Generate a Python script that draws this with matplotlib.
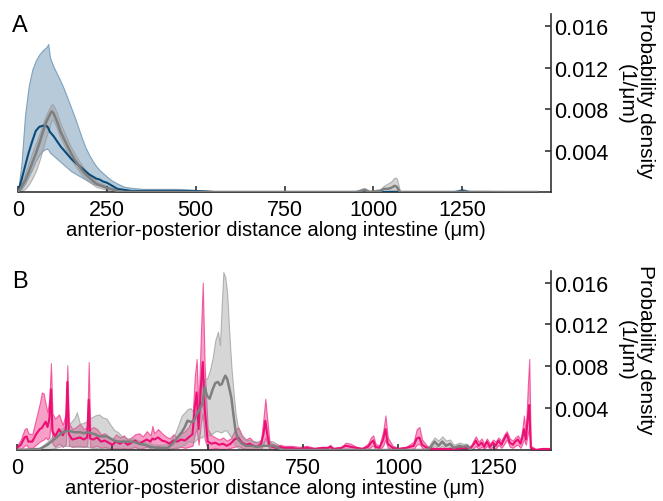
import matplotlib
matplotlib.use("Agg")
import matplotlib.pyplot as plt
from matplotlib.colors import to_rgba

plt.rcParams['font.family'] = ['Liberation Sans', 'DejaVu Sans']

# ---- panel A data (x in um, density in 1/um) ----
blue_x = [0, 10, 20, 30, 40, 50, 60, 70, 80, 85, 90, 100, 110, 120, 130, 140, 150, 160, 170,
          180, 190, 200, 210, 220, 230, 240, 250, 260, 270, 280, 300, 320, 350, 400, 450, 500,
          550, 600, 1200, 1230, 1250, 1270, 1330, 1350]
blue_mean = [0, 0.0012, 0.0025, 0.0038, 0.0049, 0.0059, 0.0063, 0.0064, 0.0064, 0.0062, 0.0058,
             0.0054, 0.0049, 0.0044, 0.0040, 0.0036, 0.0032, 0.0029, 0.0026, 0.0023, 0.0020,
             0.0017, 0.0015, 0.0013, 0.0012, 0.0010, 0.0009, 0.0007, 0.0005, 0.0003, 0.0002,
             0.0001, 0.0001, 0.0001, 0.0001, 0.0001, 0, 0, 0, 0, 0.0001, 0, 0, 0]
blue_lo = [0, 0.0003, 0.0008, 0.0015, 0.0022, 0.0030, 0.0036, 0.0040, 0.0042, 0.0041, 0.0038,
           0.0035, 0.0032, 0.0029, 0.0026, 0.0023, 0.0020, 0.0018, 0.0016, 0.0014, 0.0012,
           0.0010, 0.0008, 0.0007, 0.0006, 0.0005, 0.0004, 0.0003, 0.0002, 0.0001, 0, 0, 0,
           0, 0, 0, 0, 0, 0, 0, 0, 0, 0, 0]
blue_hi = [0, 0.0028, 0.0075, 0.0102, 0.0118, 0.0127, 0.0133, 0.0137, 0.0140, 0.0143, 0.0130,
           0.0121, 0.0114, 0.0107, 0.0099, 0.0090, 0.0081, 0.0072, 0.0062, 0.0052, 0.0043,
           0.0036, 0.0030, 0.0025, 0.0021, 0.0018, 0.0015, 0.0012, 0.0010, 0.0008, 0.0005,
           0.0004, 0.0003, 0.0003, 0.0003, 0.0002, 0.0001, 0, 0, 0.0001, 0.0003, 0.0001,
           0.0001, 0]

grayA_x = [0, 10, 20, 30, 40, 50, 60, 70, 80, 90, 95, 100, 110, 120, 130, 140, 150, 160, 170,
           180, 190, 200, 220, 250, 280, 300, 950, 965, 975, 990, 1020, 1030, 1040, 1050, 1060,
           1066, 1075, 1090, 1460]
grayA_mean = [0, 0.0005, 0.0011, 0.0019, 0.0028, 0.0037, 0.0047, 0.0058, 0.0068, 0.0075, 0.0078,
              0.0076, 0.0068, 0.0058, 0.0051, 0.0044, 0.0037, 0.0031, 0.0026, 0.0021, 0.0017,
              0.0014, 0.0008, 0.0004, 0.0001, 0, 0, 0.0001, 0.0002, 0, 0.0001, 0.0003, 0.0003,
              0.0004, 0.0006, 0.0005, 0, 0, 0]
grayA_lo = [0, 0.0001, 0.0003, 0.0007, 0.0013, 0.0020, 0.0030, 0.0042, 0.0054, 0.0064, 0.0070,
            0.0069, 0.0061, 0.0052, 0.0045, 0.0038, 0.0031, 0.0026, 0.0021, 0.0016, 0.0013,
            0.0010, 0.0005, 0.0002, 0, 0, 0, 0, 0.0001, 0, 0, 0.0001, 0.0001, 0.0002, 0.0002,
            0.0002, 0, 0, 0]
grayA_hi = [0, 0.0009, 0.0018, 0.0028, 0.0038, 0.0047, 0.0056, 0.0066, 0.0075, 0.0082, 0.0085,
            0.0084, 0.0076, 0.0066, 0.0058, 0.0050, 0.0043, 0.0037, 0.0031, 0.0026, 0.0021,
            0.0018, 0.0011, 0.0006, 0.0002, 0.0001, 0, 0.0003, 0.0004, 0.0001, 0.0003, 0.0006,
            0.0008, 0.0010, 0.0014, 0.0013, 0.0001, 0, 0]

# ---- panel B data ----
mag_x = [0, 10, 20, 25, 30, 40, 50, 60, 65, 70, 75, 80, 85, 89, 93, 100, 110, 120, 128, 132,
         136, 145, 155, 165, 175, 184, 188, 192, 200, 210, 220, 230, 240, 250, 260, 270, 280,
         290, 300, 310, 320, 330, 340, 350, 355, 360, 370, 380, 390, 400, 410, 420, 430, 440,
         450, 460, 466, 471, 476, 482, 487, 492, 500, 510, 520, 530, 540, 550, 560, 570, 580,
         590, 600, 610, 620, 630, 640, 646, 651, 656, 662, 670, 680, 690, 700, 720, 740, 760,
         780, 800, 815, 821, 830, 850, 862, 875, 890, 905, 920, 928, 934, 940, 950, 960, 966,
         972, 985, 1000, 1020, 1040, 1048, 1055, 1062, 1075, 1090, 1110, 1130, 1150, 1170,
         1190, 1198, 1203, 1210, 1218, 1225, 1232, 1240, 1248, 1255, 1262, 1270, 1278, 1284,
         1292, 1300, 1306, 1313, 1320, 1325, 1329, 1334, 1339, 1343, 1347, 1360, 1380, 1395]
mag_mean = [0.0002, 0.0005, 0.0012, 0.0013, 0.0008, 0.0008, 0.0015, 0.0020, 0.0021, 0.0024,
            0.0027, 0.0022, 0.0030, 0.0058, 0.0018, 0.0013, 0.0020, 0.0014, 0.0020, 0.0065,
            0.0015, 0.0010, 0.0011, 0.0012, 0.0010, 0.0012, 0.0048, 0.0011, 0.0010, 0.0012,
            0.0008, 0.0009, 0.0007, 0.0005, 0.0008, 0.0006, 0.0008, 0.0005, 0.0007, 0.0009,
            0.0006, 0.0008, 0.0010, 0.0008, 0.0011, 0.0010, 0.0012, 0.0009, 0.0008, 0.0006,
            0.0009, 0.0008, 0.0010, 0.0009, 0.0012, 0.0015, 0.0040, 0.0055, 0.0020, 0.0060,
            0.0084, 0.0040, 0.0008, 0.0006, 0.0007, 0.0005, 0.0006, 0.0004, 0.0006, 0.0010,
            0.0012, 0.0007, 0.0005, 0.0006, 0.0004, 0.0003, 0.0006, 0.0015, 0.0028, 0.0015,
            0.0004, 0.0003, 0.0002, 0.0003, 0.0002, 0.0002, 0.0001, 0.0002, 0.0001, 0.0002,
            0.0002, 0.0003, 0.0001, 0.0002, 0.0004, 0.0003, 0.0002, 0.0001, 0.0003, 0.0007,
            0.0009, 0.0003, 0.0002, 0.0010, 0.0020, 0.0006, 0.0002, 0.0001, 0.0002, 0.0004,
            0.0011, 0.0012, 0.0005, 0.0002, 0.0001, 0.0001, 0.0001, 0.0001, 0.0002, 0.0002,
            0.0006, 0.0009, 0.0004, 0.0007, 0.0003, 0.0008, 0.0003, 0.0007, 0.0004, 0.0009,
            0.0005, 0.0011, 0.0015, 0.0007, 0.0005, 0.0008, 0.0010, 0.0006, 0.0012, 0.0020,
            0.0010, 0.0030, 0.0043, 0.0002, 0, 0.0001, 0.0001]
mag_lo = [0, 0.0001, 0.0004, 0.0005, 0.0002, 0.0002, 0.0005, 0.0008, 0.0009, 0.0010, 0.0012,
          0.0010, 0.0012, 0.0030, 0.0006, 0.0003, 0.0006, 0.0003, 0.0005, 0.0035, 0.0004,
          0.0003, 0.0004, 0.0004, 0.0003, 0.0004, 0.0025, 0.0003, 0.0003, 0.0004, 0.0002,
          0.0003, 0.0002, 0.0001, 0.0002, 0.0001, 0.0002, 0.0001, 0.0002, 0.0003, 0.0001,
          0.0002, 0.0003, 0.0002, 0.0003, 0.0003, 0.0004, 0.0002, 0.0002, 0.0001, 0.0002,
          0.0002, 0.0003, 0.0002, 0.0003, 0.0004, 0.0015, 0.0020, 0.0005, 0.0025, 0.0035,
          0.0010, 0.0001, 0.0001, 0.0002, 0.0001, 0.0001, 0.0001, 0.0002, 0.0003, 0.0004,
          0.0002, 0.0001, 0.0001, 0.0001, 0.0001, 0.0001, 0.0005, 0.0012, 0.0005, 0.0001,
          0.0001, 0, 0.0001, 0, 0, 0, 0, 0, 0, 0, 0.0001, 0, 0, 0.0001, 0.0001, 0, 0, 0.0001,
          0.0003, 0.0004, 0.0001, 0, 0.0004, 0.0010, 0.0002, 0, 0, 0, 0.0001, 0.0005, 0.0006,
          0.0002, 0, 0, 0, 0, 0, 0, 0, 0.0002, 0.0004, 0.0001, 0.0003, 0.0001, 0.0004, 0.0001,
          0.0003, 0.0001, 0.0005, 0.0002, 0.0006, 0.0010, 0.0003, 0.0002, 0.0004, 0.0005,
          0.0002, 0.0006, 0.0010, 0.0005, 0.0015, 0.0020, 0, 0, 0, 0]
mag_hi = [0.0004, 0.0010, 0.0020, 0.0021, 0.0016, 0.0015, 0.0030, 0.0045, 0.0055, 0.0054,
          0.0044, 0.0036, 0.0050, 0.0083, 0.0035, 0.0030, 0.0034, 0.0024, 0.0035, 0.0081,
          0.0026, 0.0020, 0.0022, 0.0025, 0.0020, 0.0022, 0.0084, 0.0020, 0.0022, 0.0020,
          0.0015, 0.0016, 0.0013, 0.0010, 0.0015, 0.0012, 0.0014, 0.0010, 0.0012, 0.0015,
          0.0016, 0.0013, 0.0018, 0.0014, 0.0023, 0.0016, 0.0020, 0.0016, 0.0013, 0.0011,
          0.0015, 0.0012, 0.0016, 0.0018, 0.0022, 0.0030, 0.0070, 0.0087, 0.0040, 0.0110,
          0.0160, 0.0080, 0.0020, 0.0014, 0.0012, 0.0010, 0.0012, 0.0009, 0.0011, 0.0018,
          0.0022, 0.0014, 0.0010, 0.0012, 0.0008, 0.0007, 0.0010, 0.0030, 0.0049, 0.0030,
          0.0008, 0.0006, 0.0005, 0.0005, 0.0004, 0.0004, 0.0003, 0.0004, 0.0002, 0.0003,
          0.0003, 0.0005, 0.0002, 0.0003, 0.0007, 0.0006, 0.0003, 0.0002, 0.0006, 0.0012,
          0.0014, 0.0006, 0.0004, 0.0018, 0.0033, 0.0012, 0.0004, 0.0002, 0.0003, 0.0008,
          0.0020, 0.0022, 0.0010, 0.0004, 0.0002, 0.0002, 0.0002, 0.0002, 0.0004, 0.0004,
          0.0010, 0.0013, 0.0008, 0.0011, 0.0006, 0.0011, 0.0006, 0.0010, 0.0008, 0.0012,
          0.0009, 0.0015, 0.0018, 0.0011, 0.0009, 0.0012, 0.0014, 0.0010, 0.0020, 0.0033,
          0.0016, 0.0060, 0.0087, 0.0004, 0.0001, 0.0002, 0.0001]

grayB_x = [0, 60, 80, 90, 100, 110, 120, 130, 140, 150, 157, 165, 175, 185, 195, 205, 215, 225,
           235, 245, 255, 265, 275, 290, 305, 320, 335, 350, 365, 380, 395, 405, 415, 425, 432,
           440, 447, 455, 463, 470, 479, 486, 492, 498, 505, 513, 520, 527, 532, 537, 541, 546,
           551, 556, 562, 567, 573, 580, 590, 600, 615, 630, 645, 660, 672, 685, 695, 1075,
           1085, 1095, 1105, 1115, 1125, 1135, 1145, 1160, 1170, 1180, 1190]
grayB_mean = [0, 0.0001, 0.0005, 0.0008, 0.0011, 0.0014, 0.0017, 0.0018, 0.0018, 0.0017,
              0.0017, 0.0017, 0.0016, 0.0017, 0.0016, 0.0015, 0.0013, 0.0013, 0.0013, 0.0011,
              0.0009, 0.0008, 0.0008, 0.0008, 0.0008, 0.0006, 0.0005, 0.0003, 0.0002, 0.0002,
              0.0002, 0.0005, 0.0009, 0.0014, 0.0017, 0.0022, 0.0028, 0.0027, 0.0027, 0.0033,
              0.0039, 0.0044, 0.0060, 0.0052, 0.0049, 0.0058, 0.0064, 0.0065, 0.0062, 0.0063,
              0.0067, 0.0071, 0.0068, 0.0060, 0.0050, 0.0035, 0.0018, 0.0010, 0.0006, 0.0004,
              0.0004, 0.0003, 0.0004, 0.0004, 0.0004, 0.0002, 0, 0, 0.0003, 0.0008, 0.0004,
              0.0008, 0.0004, 0.0006, 0.0002, 0.0004, 0.0003, 0.0004, 0]
grayB_lo = [0, 0, 0, 0.0001, 0.0002, 0.0003, 0.0004, 0.0004, 0.0004, 0.0003, 0.0003, 0.0003,
            0.0003, 0.0003, 0.0002, 0.0002, 0.0002, 0.0002, 0.0002, 0.0001, 0.0001, 0.0001,
            0.0001, 0.0001, 0.0001, 0.0001, 0, 0, 0, 0, 0, 0.0001, 0.0002, 0.0003, 0.0004,
            0.0005, 0.0008, 0.0008, 0.0007, 0.0010, 0.0012, 0.0012, 0.0015, 0.0015, 0.0014,
            0.0016, 0.0018, 0.0018, 0.0017, 0.0017, 0.0018, 0.0019, 0.0018, 0.0015, 0.0012,
            0.0008, 0.0004, 0.0002, 0.0001, 0.0001, 0.0001, 0.0001, 0.0001, 0.0001, 0.0001,
            0, 0, 0, 0.0001, 0.0004, 0.0001, 0.0004, 0.0001, 0.0003, 0, 0.0002, 0.0001,
            0.0002, 0]
grayB_hi = [0, 0.0002, 0.0008, 0.0012, 0.0015, 0.0018, 0.0021, 0.0024, 0.0026, 0.0030,
            0.0036, 0.0025, 0.0026, 0.0028, 0.0031, 0.0033, 0.0034, 0.0031, 0.0030, 0.0024,
            0.0019, 0.0017, 0.0013, 0.0011, 0.0011, 0.0009, 0.0008, 0.0006, 0.0005, 0.0005,
            0.0006, 0.0010, 0.0016, 0.0026, 0.0033, 0.0036, 0.0039, 0.0040, 0.0036, 0.0038,
            0.0050, 0.0064, 0.0068, 0.0068, 0.0075, 0.0088, 0.0105, 0.0113, 0.0100, 0.0140,
            0.0170, 0.0165, 0.0150, 0.0115, 0.0080, 0.0058, 0.0035, 0.0020, 0.0013, 0.0010,
            0.0009, 0.0008, 0.0008, 0.0009, 0.0008, 0.0005, 0.0002, 0, 0.0007, 0.0012, 0.0009,
            0.0013, 0.0009, 0.0010, 0.0005, 0.0007, 0.0006, 0.0006, 0]

BLUE = '#0b4a78'
BLUE_BAND = '#7096b4'
MAG = '#ec0f74'
GRAY = '#7f7f7f'
GRAY_BAND = '#999999'
SPINE = '#333333'
YLABEL = 'Probability density\n(1/μm)'
XLABEL = 'anterior-posterior distance along intestine (μm)'


def band(ax, x, lo, hi, color, face_alpha, edge_alpha):
    ax.fill_between(x, lo, hi, facecolor=to_rgba(color, face_alpha),
                    edgecolor=to_rgba(color, edge_alpha), lw=0.8)


def style_axis(ax, xmax, ymax):
    ax.set_xlim(0, xmax)
    ax.set_ylim(0, ymax)
    for side in ['top', 'left']:
        ax.spines[side].set_visible(False)
    for side in ['bottom', 'right']:
        ax.spines[side].set_color(SPINE)
        ax.spines[side].set_linewidth(1.2)
    ax.yaxis.tick_right()
    ax.set_xticks([0, 250, 500, 750, 1000, 1250])
    ax.set_yticks([0.004, 0.008, 0.012, 0.016])
    ax.set_yticklabels(['0.004', '0.008', '0.012', '0.016'])
    ax.tick_params(axis='both', direction='in', length=4, width=1.2, color=SPINE,
                   labelsize=15.5, pad=2)
    ax.tick_params(axis='x', pad=5)
    ax.set_xlabel(XLABEL, fontsize=14.6)
    ax.xaxis.set_label_coords(0.483, -0.155)


fig = plt.figure(figsize=(6.63, 5.02), dpi=100)
axA = fig.add_axes([18 / 663, 1 - 193 / 502, 533 / 663, 178 / 502])
axB = fig.add_axes([17 / 663, 1 - 451 / 502, 534 / 663, 179 / 502])

# Panel A
band(axA, blue_x, blue_lo, blue_hi, BLUE_BAND, 0.5, 0.85)
band(axA, grayA_x, grayA_lo, grayA_hi, GRAY_BAND, 0.4, 0.7)
axA.plot(blue_x, blue_mean, color=BLUE, lw=1.5, zorder=3)
axA.plot(grayA_x, grayA_mean, color=GRAY, lw=1.8, zorder=3)
style_axis(axA, 1500, 0.0172)

# Panel B
band(axB, mag_x, mag_lo, mag_hi, MAG, 0.4, 0.6)
band(axB, grayB_x, grayB_lo, grayB_hi, GRAY_BAND, 0.4, 0.7)
axB.plot(mag_x, mag_mean, color=MAG, lw=1.5, zorder=3)
axB.plot(grayB_x, grayB_mean, color=GRAY, lw=1.8, zorder=3)
style_axis(axB, 1400, 0.0171)

# right-hand y labels, rotated to read top to bottom
fig.text(636 / 663, 1 - 94 / 502, YLABEL, fontsize=15, rotation=270,
         ha='center', va='center', multialignment='center', linespacing=1.05)
fig.text(636 / 663, 1 - 350 / 502, YLABEL, fontsize=15, rotation=270,
         ha='center', va='center', multialignment='center', linespacing=1.05)

fig.text(12 / 663, 1 - 32 / 502, 'A', fontsize=17)
fig.text(12 / 663, 1 - 288 / 502, 'B', fontsize=17)

fig.savefig('out.png', dpi=100)
